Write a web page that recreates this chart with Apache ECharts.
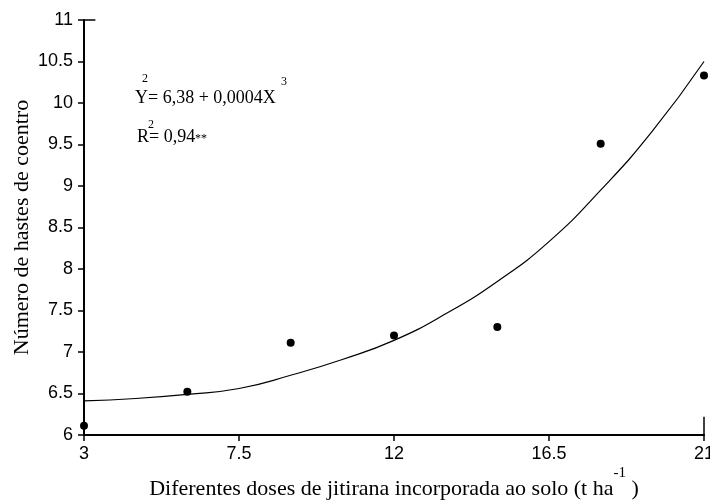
<!DOCTYPE html>
<html>
<head>
<meta charset="utf-8">
<script src="https://cdn.jsdelivr.net/npm/echarts@6/dist/echarts.min.js"></script>
<style>html,body{margin:0;padding:0;background:#fff}#c{width:710px;height:500px}</style>
</head>
<body>
<div id="c"></div>
<script>
// Observed data points
var doseX = [3, 6, 9, 12, 15, 18, 21];
var hastesY = [6.11, 6.52, 7.11, 7.20, 7.30, 9.51, 10.33];
// Fitted curve
var curveX = [3, 4.5, 6, 7.5, 9, 10.5, 12, 13.5, 15, 16.5, 18, 19.5, 21];
var curveY = [6.41, 6.44, 6.49, 6.56, 6.72, 6.91, 7.14, 7.46, 7.85, 8.33, 8.95, 9.66, 10.50];
var xTicks = [3, 7.5, 12, 16.5, 21];
var yMin = 6, yMax = 11, yStep = 0.5;

var chart = echarts.init(document.getElementById('c'), null, {renderer: 'canvas'});
var tickFont = "'Liberation Sans',Arial,sans-serif";
var serif = "'Liberation Serif','Times New Roman',serif";

function txt(text, left, top, size) {
  return {type: 'text', left: left, top: top, z: 100,
    style: {text: text, fontFamily: serif, fontSize: size, fill: '#000'}};
}

chart.setOption({
  animation: false,
  backgroundColor: '#fff',
  grid: {left: 84, right: 6, top: 20, bottom: 65, outerBoundsMode: 'none', containLabel: false},
  xAxis: {
    type: 'value', min: 3, max: 21,
    name: '{m|Diferentes doses de jitirana incorporada ao solo (t ha}{sup|-1}{m| )}',
    nameLocation: 'middle', nameGap: 31, nameMoveOverlap: false,
    nameTextStyle: {
      fontFamily: serif, fontSize: 22, color: '#000', verticalAlign: 'top',
      rich: {
        m: {fontFamily: serif, fontSize: 22, color: '#000', verticalAlign: 'bottom'},
        sup: {fontFamily: serif, fontSize: 15, color: '#000', verticalAlign: 'bottom', padding: [0, 0, 19, 0]}
      }
    },
    axisLine: {show: true, onZero: false, lineStyle: {color: '#000', width: 2}},
    axisTick: {show: true, inside: false, length: 6, customValues: xTicks, lineStyle: {color: '#000', width: 1.5}},
    axisLabel: {customValues: xTicks, margin: 10, fontFamily: tickFont, fontSize: 18, color: '#000'},
    splitLine: {show: false}
  },
  yAxis: {
    type: 'value', min: yMin, max: yMax, interval: yStep,
    name: 'Número de hastes de coentro',
    nameLocation: 'middle', nameGap: 51, nameRotate: 90, nameMoveOverlap: false,
    nameTextStyle: {fontFamily: serif, fontSize: 22, color: '#000'},
    axisLine: {show: true, onZero: false, lineStyle: {color: '#000', width: 2}},
    axisTick: {show: true, inside: false, length: 6, lineStyle: {color: '#000', width: 1.5}},
    axisLabel: {margin: 11, fontFamily: tickFont, fontSize: 18, color: '#000'},
    splitLine: {show: false}
  },
  series: [
    {
      type: 'line', smooth: true, symbol: 'none',
      data: curveX.map(function (x, i) { return [x, curveY[i]]; }),
      lineStyle: {color: '#000', width: 1.2},
      markLine: {
        silent: true, symbol: 'none', label: {show: false},
        lineStyle: {color: '#000', width: 1.5, type: 'solid'},
        data: [
          [{coord: [3, yMax]}, {coord: [3.33, yMax]}],
          [{coord: [21, yMin]}, {coord: [21, yMin + 0.22]}]
        ]
      }
    },
    {
      type: 'scatter', symbol: 'circle', symbolSize: 8,
      data: doseX.map(function (x, i) { return [x, hastesY[i]]; }),
      itemStyle: {color: '#000', opacity: 1}
    }
  ],
  graphic: [
    txt('Y= 6,38 + 0,0004X', 135, 89, 18),
    txt('2', 142, 73, 12),
    txt('3', 281, 76, 12),
    txt('R= 0,94', 137, 128, 18),
    txt('2', 148, 119, 12),
    txt('**', 195, 133, 12)
  ]
});
</script>
</body>
</html>
